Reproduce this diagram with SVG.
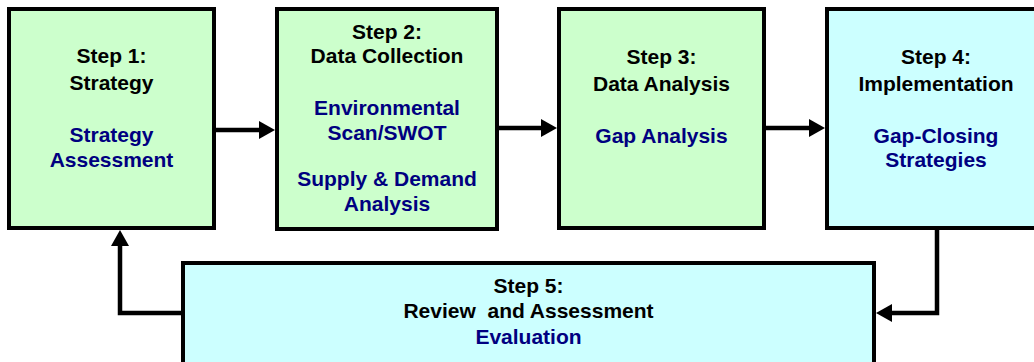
<svg xmlns="http://www.w3.org/2000/svg" width="1034" height="362" viewBox="0 0 1034 362">
  <style>
    .box { stroke: #000; stroke-width: 4; }
    .green { fill: #CCFFCC; }
    .cyan { fill: #CCFFFF; }
    text { font-family: "Liberation Sans", Arial, sans-serif; font-weight: bold; font-size: 21px; text-anchor: middle; }
    .t { fill: #000; }
    .b { fill: #000080; }
    .conn { fill: none; stroke: #000; stroke-width: 4.5; }
  </style>
  <defs>
    <marker id="ah" viewBox="0 0 16 18" refX="2" refY="9" markerWidth="16" markerHeight="18" markerUnits="userSpaceOnUse" orient="auto">
      <path d="M0,0 L16,9 L0,18 Z" fill="#000"/>
    </marker>
  </defs>
  <rect width="1034" height="362" fill="#fff"/>

  <g id="connectors">
    <path class="conn" d="M216,130 H261" marker-end="url(#ah)"/>
    <path class="conn" d="M499,128 H543" marker-end="url(#ah)"/>
    <path class="conn" d="M766,128 H811" marker-end="url(#ah)"/>
    <path class="conn" d="M937,230 V313 H890" marker-end="url(#ah)"/>
    <path class="conn" d="M181,313 H120 V244" marker-end="url(#ah)"/>
  </g>

  <g id="step1">
    <rect class="box green" x="9" y="9" width="205" height="219"/>
    <text class="t" x="111.5" y="63">Step 1:</text>
    <text class="t" x="111.5" y="90">Strategy</text>
    <text class="b" x="111.5" y="142">Strategy</text>
    <text class="b" x="111.5" y="167">Assessment</text>
  </g>

  <g id="step2">
    <rect class="box green" x="277" y="9" width="220" height="220"/>
    <text class="t" x="387" y="39">Step 2:</text>
    <text class="t" x="387" y="63">Data Collection</text>
    <text class="b" x="387" y="115">Environmental</text>
    <text class="b" x="387" y="140">Scan/SWOT</text>
    <text class="b" x="387" y="186">Supply &amp; Demand</text>
    <text class="b" x="387" y="211">Analysis</text>
  </g>

  <g id="step3">
    <rect class="box green" x="559" y="9" width="205" height="219"/>
    <text class="t" x="661.5" y="64">Step 3:</text>
    <text class="t" x="661.5" y="91">Data Analysis</text>
    <text class="b" x="661.5" y="143">Gap Analysis</text>
  </g>

  <g id="step4">
    <rect class="box cyan" x="827" y="9" width="220" height="219"/>
    <text class="t" x="936" y="64">Step 4:</text>
    <text class="t" x="936" y="91">Implementation</text>
    <text class="b" x="936" y="143">Gap-Closing</text>
    <text class="b" x="936" y="167">Strategies</text>
  </g>

  <g id="step5">
    <rect class="box cyan" x="183" y="263" width="691" height="120"/>
    <text class="t" x="528.5" y="293">Step 5:</text>
    <text class="t" x="528.5" y="318" xml:space="preserve">Review  and Assessment</text>
    <text class="b" x="528.5" y="344">Evaluation</text>
  </g>
</svg>
